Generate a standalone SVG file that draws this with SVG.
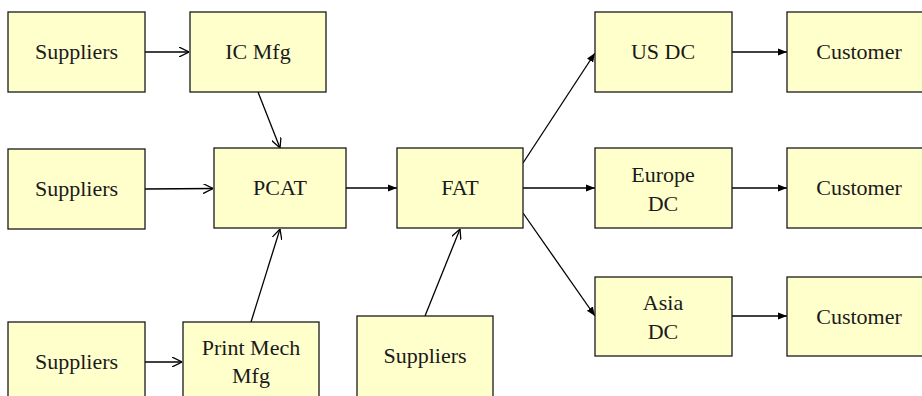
<svg xmlns="http://www.w3.org/2000/svg" width="922" height="396" viewBox="0 0 922 396">
<style>
.box{fill:#FFFFCC;stroke:#1a1a1a;stroke-width:1.3}
.t{font-family:"Liberation Serif",serif;font-size:22px;fill:#1a1a1a;text-anchor:middle}
.c{stroke:#000;stroke-width:1.3;fill:none}
</style>
<defs>
<marker id="open" viewBox="0 0 10 10" refX="10" refY="5" markerWidth="10" markerHeight="10" markerUnits="userSpaceOnUse" orient="auto">
<path d="M0,0 L10,5 L0,10" fill="none" stroke="#000" stroke-width="1.3"/>
</marker>
<marker id="fill" viewBox="0 0 10 10" refX="10" refY="5" markerWidth="9" markerHeight="9" markerUnits="userSpaceOnUse" orient="auto">
<path d="M0,1 L10,5 L0,9 Z" fill="#000"/>
</marker>
</defs>
<g id="connectors">
<line class="c" x1="145" y1="52" x2="189" y2="52" marker-end="url(#open)"/>
<line class="c" x1="258" y1="92" x2="280" y2="148" marker-end="url(#open)"/>
<line class="c" x1="145" y1="189" x2="213" y2="188.5" marker-end="url(#open)"/>
<line class="c" x1="251" y1="322" x2="280" y2="229" marker-end="url(#open)"/>
<line class="c" x1="145" y1="362" x2="182" y2="362" marker-end="url(#open)"/>
<line class="c" x1="425" y1="316" x2="460" y2="229" marker-end="url(#open)"/>
<line class="c" x1="346" y1="188" x2="397" y2="188" marker-end="url(#fill)"/>
<line class="c" x1="523" y1="163" x2="595" y2="53" marker-end="url(#fill)"/>
<line class="c" x1="523" y1="188" x2="595" y2="188" marker-end="url(#fill)"/>
<line class="c" x1="523" y1="213" x2="595" y2="316" marker-end="url(#fill)"/>
<line class="c" x1="732" y1="52" x2="787" y2="52" marker-end="url(#fill)"/>
<line class="c" x1="732" y1="188" x2="787" y2="188" marker-end="url(#fill)"/>
<line class="c" x1="732" y1="316" x2="787" y2="316" marker-end="url(#fill)"/>
</g>
<g id="suppliers1"><rect class="box" x="8" y="12" width="137" height="80"/><text class="t" x="76.5" y="59">Suppliers</text></g>
<g id="icmfg"><rect class="box" x="190" y="12" width="136" height="80"/><text class="t" x="258" y="59">IC Mfg</text></g>
<g id="suppliers2"><rect class="box" x="8" y="149" width="137" height="80"/><text class="t" x="76.5" y="196">Suppliers</text></g>
<g id="pcat"><rect class="box" x="214" y="148" width="132" height="80"/><text class="t" x="280" y="195">PCAT</text></g>
<g id="suppliers3"><rect class="box" x="8" y="322" width="137" height="90"/><text class="t" x="76.5" y="369">Suppliers</text></g>
<g id="printmech"><rect class="box" x="183" y="322" width="136" height="90"/><text class="t" x="251" y="355">Print Mech</text><text class="t" x="251" y="383">Mfg</text></g>
<g id="fat"><rect class="box" x="397" y="148" width="126" height="80"/><text class="t" x="460" y="195">FAT</text></g>
<g id="suppliers4"><rect class="box" x="357" y="316" width="136" height="90"/><text class="t" x="425" y="363">Suppliers</text></g>
<g id="usdc"><rect class="box" x="595" y="12" width="137" height="80"/><text class="t" x="663" y="59">US DC</text></g>
<g id="europedc"><rect class="box" x="595" y="148" width="137" height="80"/><text class="t" x="663" y="182">Europe</text><text class="t" x="663" y="211">DC</text></g>
<g id="asiadc"><rect class="box" x="595" y="277" width="137" height="79"/><text class="t" x="663" y="310">Asia</text><text class="t" x="663" y="339">DC</text></g>
<g id="customer1"><rect class="box" x="787" y="12" width="140" height="80"/><text class="t" x="859" y="59">Customer</text></g>
<g id="customer2"><rect class="box" x="787" y="148" width="140" height="80"/><text class="t" x="859" y="195">Customer</text></g>
<g id="customer3"><rect class="box" x="787" y="277" width="140" height="79"/><text class="t" x="859" y="324">Customer</text></g>
</svg>
